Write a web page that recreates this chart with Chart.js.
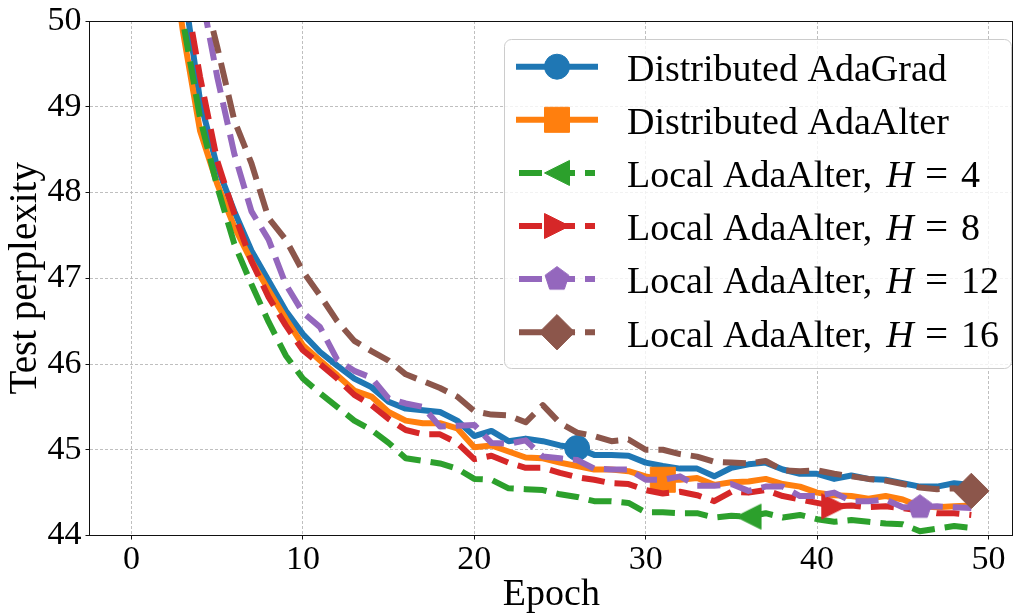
<!DOCTYPE html>
<html>
<head>
<meta charset="utf-8">
<script src="https://cdn.jsdelivr.net/npm/chart.js@4.4.0/dist/chart.umd.min.js"></script>
<style>
  html, body { margin: 0; padding: 0; background: #ffffff; }
  #wrap { width: 1032px; height: 615px; position: relative; }
</style>
</head>
<body>
<div id="wrap"><canvas id="c" width="1032" height="615"></canvas></div>
<script>
// ---------------- data ----------------
const epochs = [0,1,2,3,4,5,6,7,8,9,10,11,12,13,14,15,16,17,18,19,20,21,22,23,24,25,26,27,28,29,30,31,32,33,34,35,36,37,38,39,40,41,42,43,44,45,46,47,48,49];

const distAdaGrad = [60.5,54.2,52.0,50.46,49.07,48.3,47.78,47.32,46.97,46.62,
  46.35,46.14,45.98,45.83,45.73,45.56,45.48,45.46,45.44,45.34,
  45.16,45.22,45.10,45.13,45.10,45.05,45.02,44.94,44.94,44.93,
  44.85,44.81,44.78,44.78,44.69,44.79,44.83,44.85,44.77,44.72,
  44.72,44.66,44.70,44.66,44.65,44.61,44.57,44.57,44.61,44.59];

const distAdaAlter = [59.0,53.5,51.3,49.88,48.72,48.1,47.6,47.2,46.86,46.53,
  46.22,46.04,45.87,45.69,45.62,45.44,45.34,45.31,45.31,45.25,
  45.03,45.05,44.98,44.91,44.90,44.85,44.81,44.77,44.77,44.75,
  44.69,44.65,44.65,44.67,44.59,44.62,44.63,44.66,44.60,44.57,
  44.50,44.47,44.46,44.43,44.46,44.42,44.34,44.33,44.34,44.35];

const localH4 = [59.5,53.8,51.6,50.0,48.87,48.07,47.4,46.93,46.49,46.10,
  45.83,45.66,45.50,45.34,45.23,45.08,44.90,44.87,44.84,44.78,
  44.66,44.65,44.55,44.54,44.53,44.48,44.45,44.40,44.40,44.38,
  44.27,44.27,44.26,44.26,44.21,44.23,44.22,44.26,44.21,44.24,
  44.19,44.16,44.18,44.16,44.14,44.13,44.05,44.08,44.11,44.09];

const localH8 = [61.0,54.5,52.2,50.5,49.35,48.37,47.75,47.2,46.78,46.45,
  46.16,46.0,45.83,45.64,45.52,45.36,45.23,45.18,45.18,45.08,
  44.89,44.93,44.85,44.79,44.79,44.73,44.68,44.65,44.61,44.60,
  44.53,44.49,44.51,44.47,44.40,44.51,44.50,44.53,44.46,44.42,
  44.38,44.34,44.35,44.33,44.34,44.32,44.29,44.26,44.26,44.24];

const localH12 = [64.0,57.0,53.6,51.7,50.4,49.35,48.45,47.78,47.45,46.93,
  46.6,46.43,46.05,45.92,45.84,45.6,45.54,45.5,45.27,45.28,
  45.29,45.08,45.07,45.11,44.92,44.90,44.88,44.78,44.77,44.77,
  44.65,44.65,44.69,44.58,44.58,44.60,44.52,44.57,44.57,44.46,
  44.46,44.50,44.40,44.40,44.42,44.33,44.33,44.34,44.33,44.32];

const localH16 = [66.0,58.0,54.2,52.0,50.5,49.7,48.84,48.34,47.7,47.45,
  47.08,46.8,46.5,46.27,46.15,46.04,45.88,45.80,45.72,45.62,
  45.45,45.41,45.40,45.32,45.52,45.31,45.2,45.16,45.1,45.12,
  45.0,45.0,44.95,44.92,44.86,44.85,44.84,44.87,44.76,44.75,
  44.76,44.72,44.69,44.66,44.64,44.60,44.56,44.54,44.55,44.52];

const legendNames = ['Distributed AdaGrad', 'Distributed AdaAlter', 'Local AdaAlter,', 'Local AdaAlter,', 'Local AdaAlter,', 'Local AdaAlter,'];
const legendH = [null, null, '4', '8', '12', '16'];
const markerEpochs = [26, 31, 36, 41, 46, 49];

const xTicks = [0, 10, 20, 30, 40, 50];
const yTicks = [44, 45, 46, 47, 48, 49, 50];
const xTitle = 'Epoch';
const yTitle = 'Test perplexity';

// ---------------- styles ----------------
const colors = ['#1f77b4', '#ff7f0e', '#2ca02c', '#d62728', '#9467bd', '#8c564b'];
const FONT = "'Liberation Serif', 'Times New Roman', serif";
const MS = 25;   // marker size (px)

function makeMarker(color, pathFn) {
  const s = 32, cv = document.createElement('canvas');
  cv.width = s; cv.height = s;
  const g = cv.getContext('2d');
  g.fillStyle = color; g.strokeStyle = color; g.lineWidth = 1; g.lineJoin = 'miter';
  g.beginPath(); pathFn(g, s / 2, s / 2, MS / 2); g.closePath();
  g.fill(); g.stroke();
  return cv;
}
const triLeft = makeMarker(colors[2], (g, cx, cy, h) => { g.moveTo(cx - h, cy); g.lineTo(cx + h, cy - h); g.lineTo(cx + h, cy + h); });
const triRight = makeMarker(colors[3], (g, cx, cy, h) => { g.moveTo(cx + h, cy); g.lineTo(cx - h, cy - h); g.lineTo(cx - h, cy + h); });
const pentagon = makeMarker(colors[4], (g, cx, cy, h) => {
  for (let k = 0; k < 5; k++) {
    const a = -Math.PI / 2 + k * 2 * Math.PI / 5;
    const px = cx + h * Math.cos(a), py = cy + h * Math.sin(a);
    if (k === 0) g.moveTo(px, py); else g.lineTo(px, py);
  }
});

const seriesValues = [distAdaGrad, distAdaAlter, localH4, localH8, localH12, localH16];
const pointStyles = ['circle', 'rect', triLeft, triRight, pentagon, 'rectRot'];
const pointRadii = [MS / 2, MS / 2 / Math.SQRT1_2, MS / 2, MS / 2, MS / 2, MS / 2 / Math.SQRT1_2];
const dashes = [[], [], [23, 10], [23, 10], [23, 10], [23, 10]];

const datasets = seriesValues.map((vals, i) => ({
  label: legendNames[i] + (legendH[i] ? ' H = ' + legendH[i] : ''),
  data: epochs.map((e, j) => ({ x: e, y: vals[j] })),
  borderColor: colors[i],
  backgroundColor: colors[i],
  borderWidth: 6,
  borderDash: dashes[i],
  borderJoinStyle: 'round',
  borderCapStyle: 'butt',
  tension: 0,
  fill: false,
  clip: 0,
  order: 10 - i,
  pointStyle: pointStyles[i],
  pointBackgroundColor: colors[i],
  pointBorderColor: colors[i],
  pointBorderWidth: 1,
  pointRadius: (ctx) => (epochs[ctx.dataIndex] === markerEpochs[i] ? pointRadii[i] : 0),
  pointHoverRadius: (ctx) => (epochs[ctx.dataIndex] === markerEpochs[i] ? pointRadii[i] : 0),
  pointHitRadius: 0
}));

// ---------------- plugins ----------------
const framePlugin = {
  id: 'frame',
  afterDatasetsDraw(chart) {
    const { ctx, chartArea: a } = chart;
    ctx.save();
    ctx.strokeStyle = '#111';
    ctx.lineWidth = 1;
    const l = Math.floor(a.left) + 0.5, t = Math.floor(a.top) + 0.5;
    const r = Math.floor(a.right) - 0.5, b = Math.floor(a.bottom) + 0.5;
    ctx.strokeRect(l, t, r - l, b - t);
    ctx.restore();
  }
};

const legendPlugin = {
  id: 'mplLegend',
  afterDraw(chart) {
    const ctx = chart.ctx;
    const box = { x: 504.5, y: 39.5, w: 507, h: 329, r: 7 };
    ctx.save();
    ctx.beginPath();
    ctx.roundRect(box.x, box.y, box.w, box.h, box.r);
    ctx.fillStyle = 'rgba(255,255,255,0.8)';
    ctx.fill();
    ctx.strokeStyle = '#cccccc';
    ctx.lineWidth = 1;
    ctx.stroke();

    const rowY0 = 66.7, rowStep = 53.1;
    for (let i = 0; i < legendNames.length; i++) {
      const cy = rowY0 + i * rowStep;
      // line sample
      ctx.save();
      ctx.strokeStyle = colors[i];
      ctx.lineWidth = 6;
      ctx.lineCap = 'butt';
      ctx.setLineDash(dashes[i]);
      ctx.beginPath();
      if (dashes[i].length) { ctx.moveTo(519, cy); ctx.lineTo(595, cy); }
      else { ctx.moveTo(516, cy); ctx.lineTo(598, cy); }
      ctx.stroke();
      ctx.setLineDash([]);
      ctx.fillStyle = colors[i];
      ctx.strokeStyle = colors[i];
      ctx.lineWidth = 1;
      Chart.helpers.drawPoint(ctx, { pointStyle: pointStyles[i], rotation: 0, radius: pointRadii[i], borderWidth: 1 }, 557, cy);
      ctx.restore();

      // text
      const base = cy + 14.3;
      ctx.fillStyle = '#000';
      ctx.textBaseline = 'alphabetic';
      ctx.textAlign = 'left';
      ctx.font = '38px ' + FONT;
      ctx.fillText(legendNames[i], 627, base);
      if (legendH[i]) {
        const endX = 627 + ctx.measureText(legendNames[i]).width;
        ctx.font = 'italic 38px ' + FONT;
        ctx.fillText('H', Math.max(882, endX + 14), base);
        ctx.font = '41px ' + FONT;
        ctx.fillText('=', 925, base);
        ctx.font = '38px ' + FONT;
        ctx.fillText(legendH[i], 961, base);
      }
    }
    ctx.restore();
  }
};

// ---------------- chart ----------------
new Chart(document.getElementById('c'), {
  type: 'line',
  data: { datasets },
  options: {
    responsive: false,
    animation: false,
    devicePixelRatio: 1,
    events: [],
    layout: { padding: { left: 0, right: 1, top: 20, bottom: 0 } },
    plugins: { legend: { display: false }, tooltip: { enabled: false } },
    scales: {
      x: {
        type: 'linear',
        min: -2.45,
        max: 51.45,
        afterBuildTicks: (s) => { s.ticks = xTicks.map(v => ({ value: v })); },
        afterFit: (s) => { s.height = 79.5; },
        grid: { color: '#b8b8b8', lineWidth: 0.9, drawTicks: true, tickLength: 4, tickColor: '#111', tickWidth: 1 },
        border: { display: false, dash: [3, 2] },
        ticks: {
          color: '#000', padding: 0, maxRotation: 0, autoSkip: false,
          font: { family: FONT, size: 34, lineHeight: 1.2 },
          callback: (v) => String(v)
        },
        title: {
          display: true, text: xTitle, color: '#000',
          font: { family: FONT, size: 38, lineHeight: 1 },
          padding: { top: 0, bottom: 1 }
        }
      },
      y: {
        type: 'linear',
        min: 44,
        max: 50,
        afterBuildTicks: (s) => { s.ticks = yTicks.map(v => ({ value: v })); },
        afterFit: (s) => { s.width = 89.5; },
        grid: { color: '#b8b8b8', lineWidth: 0.9, drawTicks: true, tickLength: 4, tickColor: '#111', tickWidth: 1 },
        border: { display: false, dash: [3, 2] },
        ticks: {
          color: '#000', padding: 4, autoSkip: false,
          font: { family: FONT, size: 34, lineHeight: 1.0 },
          callback: (v) => String(v)
        },
        title: {
          display: true, text: yTitle, color: '#000',
          font: { family: FONT, size: 39, lineHeight: 1 },
          padding: { top: 6, bottom: 0 }
        }
      }
    }
  },
  plugins: [framePlugin, legendPlugin]
});
</script>
</body>
</html>
